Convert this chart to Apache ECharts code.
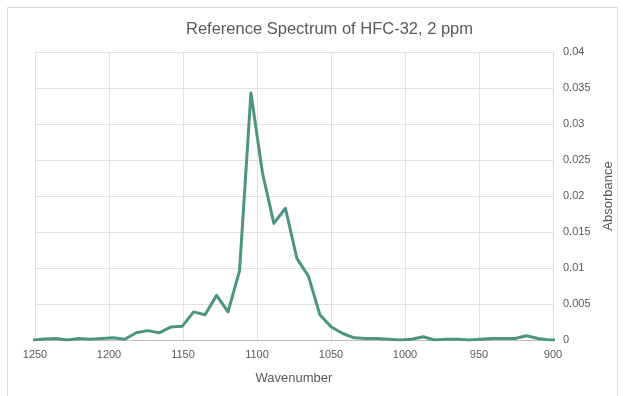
<!DOCTYPE html>
<html>
<head>
<meta charset="utf-8">
<script src="https://cdn.jsdelivr.net/npm/echarts@6/dist/echarts.min.js"></script>
<style>
html,body{margin:0;padding:0;background:#fff;}
#chart{width:623px;height:396px;}
</style>
</head>
<body>
<div id="chart"></div>
<script>
const titleText = "Reference Spectrum of HFC-32, 2 ppm";
const xName = "Wavenumber";
const yName = "Absorbance";

const wavenumbers = [
  1251.4, 1243.6, 1235.9, 1228.1, 1220.4, 1212.6, 1204.9, 1197.1, 1189.3, 1181.6,
  1173.9, 1166.1, 1158.3, 1150.6, 1142.8, 1135.1, 1127.3, 1119.6, 1111.8, 1104.1,
  1096.3, 1088.6, 1080.8, 1073.0, 1065.3, 1057.5, 1049.8, 1042.0, 1034.3, 1026.5,
  1018.8, 1011.0, 1003.3, 995.5, 987.7, 980.0, 972.2, 964.5, 956.7, 949.0,
  941.2, 933.5, 925.7, 917.9, 910.2, 902.4, 894.7
];
const absorbance = [
  0.0000, 0.00015, 0.0002, 0.0000, 0.0002, 0.0001, 0.0002, 0.0003, 0.0001, 0.0010,
  0.0013, 0.0010, 0.0018, 0.0019, 0.0039, 0.0035, 0.0062, 0.0039, 0.0096, 0.0343,
  0.0232, 0.0162, 0.0183, 0.0113, 0.0089, 0.0035, 0.0018, 0.0009, 0.0003, 0.0002,
  0.0002, 0.0001, 0.0000, 0.0001, 0.00045, 0.0000, 0.0001, 0.0001, 0.0000, 0.0001,
  0.0002, 0.0002, 0.0002, 0.0006, 0.0002, 0.0000, 0.0000
];

const xMin = 900, xMax = 1250, xStep = 50;
const yMin = 0, yMax = 0.04, yStep = 0.005;

const seriesData = wavenumbers.map((w, i) => [w, absorbance[i]]);

const font = "'Liberation Sans', Arial, sans-serif";
const textColor = '#595959';

const chart = echarts.init(document.getElementById('chart'), null, {renderer: 'canvas'});
chart.setOption({
  animation: false,
  backgroundColor: '#ffffff',
  title: {
    text: titleText,
    left: 186,
    top: 21,
    padding: 0,
    textStyle: {fontFamily: font, fontSize: 16.5, fontWeight: 'normal', color: textColor}
  },
  graphic: [{
    type: 'rect',
    shape: {x: 7.5, y: 7.5, width: 610, height: 400},
    style: {fill: 'none', stroke: '#d9d9d9', lineWidth: 1},
    silent: true,
    z: -1
  }],
  grid: {left: 35, right: 70, top: 52, bottom: 56, outerBoundsMode: 'none', containLabel: false},
  xAxis: {
    type: 'value',
    min: xMin, max: xMax, interval: xStep,
    inverse: true,
    name: xName,
    nameLocation: 'middle',
    nameGap: 32,
    nameTextStyle: {fontFamily: font, fontSize: 13, color: textColor},
    axisLine: {show: true, onZero: false, lineStyle: {color: '#bfbfbf', width: 1}},
    axisTick: {show: false},
    axisLabel: {fontFamily: font, fontSize: 11, color: textColor, margin: 9,
      formatter: v => String(v)},
    splitLine: {show: true, lineStyle: {color: '#e0e0e0', width: 1}}
  },
  yAxis: {
    type: 'value',
    position: 'right',
    min: yMin, max: yMax, interval: yStep,
    name: yName,
    nameLocation: 'middle',
    nameRotate: 90,
    nameGap: 44,
    nameTextStyle: {fontFamily: font, fontSize: 13, color: textColor},
    axisLine: {show: true, lineStyle: {color: '#d9d9d9', width: 1}},
    axisTick: {show: false},
    axisLabel: {fontFamily: font, fontSize: 11, color: textColor, margin: 10,
      formatter: v => String(+v.toFixed(3))},
    splitLine: {show: true, lineStyle: {color: '#e0e0e0', width: 1}}
  },
  series: [{
    type: 'line',
    data: seriesData,
    showSymbol: false,
    symbol: 'none',
    smooth: false,
    clip: true,
    lineStyle: {color: '#4d9483', width: 3, join: 'round'},
    itemStyle: {color: '#4d9483'}
  }]
});
</script>
</body>
</html>
